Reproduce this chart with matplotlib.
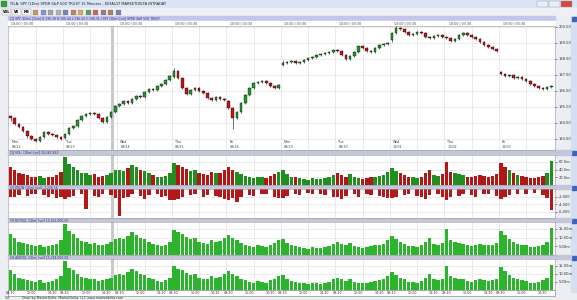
import matplotlib.pyplot as plt
from matplotlib.patches import Rectangle
import numpy as np

# ---- data (15-min chart read as 13 bars per session) ----
days = ["Mon", "Tue", "Wed", "Thu", "Fri", "Mon", "Tue", "Wed", "Thu", "Fri"]
dates = ["09/22", "09/23", "09/24", "09/25", "09/26", "09/29", "09/30", "10/01", "10/02", "10/03"]
day_open = [194.44, 193.06, 195.06, 196.88, 195.38, 197.62, 198.56, 199.19, 199.38, 197.19]

closes = [
    194.31, 193.94, 193.75, 193.50, 193.19, 193.00, 192.88, 193.12, 193.44, 193.31, 193.25, 193.12, 193.00,
    193.31, 193.69, 193.81, 194.19, 194.44, 194.56, 194.62, 194.56, 194.31, 194.06, 194.38, 194.69, 195.06,
    195.19, 195.38, 195.25, 195.50, 195.69, 195.62, 195.94, 196.12, 196.06, 196.31, 196.44, 196.69, 196.94,
    197.25, 196.81, 196.19, 195.81, 196.06, 196.19, 196.00, 195.88, 195.56, 195.44, 195.62, 195.50, 195.44,
    194.94, 194.31, 194.69, 195.25, 195.75, 196.19, 196.50, 196.56, 196.62, 196.50, 196.31, 196.19, 196.38,
    197.75, 197.81, 197.88, 197.75, 197.81, 197.94, 198.06, 198.12, 198.25, 198.31, 198.38, 198.44, 198.56,
    198.50, 198.25, 198.00, 198.19, 198.44, 198.81, 198.69, 198.50, 198.44, 198.69, 198.88, 198.94, 199.00,
    199.62, 199.94, 199.88, 199.69, 199.50, 199.56, 199.69, 199.62, 199.38, 199.31, 199.44, 199.50, 199.38,
    199.31, 199.12, 199.25, 199.50, 199.62, 199.50, 199.38, 199.25, 199.06, 198.88, 198.75, 198.62, 198.50,
    197.06, 196.94, 197.00, 196.81, 196.88, 196.75, 196.62, 196.44, 196.31, 196.19, 196.12, 196.25, 196.31,
]
# notable wick extremes (bar index -> price)
spike_low = {0: 194.10, 53: 193.65, 4: 193.05, 91: 199.05}
spike_high = {39: 197.45, 92: 200.12, 65: 197.95}

volume = [
    48, 40, 30, 28, 25, 22, 20, 24, 18, 20, 22, 26, 34,
    72, 55, 48, 40, 32, 30, 26, 28, 22, 24, 26, 30, 38,
    40, 36, 44, 52, 46, 40, 36, 30, 26, 22, 20, 24, 30,
    58, 52, 48, 42, 36, 40, 30, 28, 26, 34, 30, 32, 40,
    46, 40, 34, 28, 24, 20, 18, 22, 20, 18, 24, 28, 34,
    38, 28, 22, 20, 18, 16, 14, 18, 16, 15, 18, 20, 26,
    30, 26, 22, 28, 20, 18, 16, 18, 20, 22, 24, 26, 34,
    44, 36, 30, 26, 20, 20, 18, 22, 30, 40, 26, 24, 28,
    60, 34, 30, 28, 26, 22, 20, 24, 26, 24, 22, 24, 28,
    56, 46, 38, 30, 26, 24, 22, 18, 18, 20, 24, 30, 62,
]

delta = [
    -2.2, -2.0, -1.6, 0, -1.8, -1.2, -1.4, 0, -1.6, -2.0, -1.2, -2.4, -2.0,
    -2.6, -2.2, -1.8, 0, -1.4, -5.2, 0, -1.8, -2.0, -1.4, 0, -1.6, -2.4,
    -7.0, -2.4, -2.0, -1.4, 0, -1.8, -2.6, -1.6, 0, -1.2, -2.2, -1.8, -2.8,
    -3.0, -2.6, -2.2, 0, -1.6, -1.4, 0, -2.0, -1.6, 0, -1.8, -2.2, -2.6,
    -2.8, -2.4, -3.4, -2.0, 0, -1.6, -1.8, 0, -1.2, -1.4, 0, -2.0, -2.4,
    -2.4, -1.8, 0, -1.2, -1.6, 0, -1.0, -1.4, 0, -1.2, -1.6, 0, -2.0,
    -2.2, -2.6, -1.8, 0, -1.4, -2.0, 0, -1.2, -1.6, 0, -1.8, -2.2, -2.4,
    -2.4, -2.0, 0, -1.6, -1.4, 0, -1.8, -2.0, -2.6, -1.6, 0, -1.4, -2.0,
    -2.8, -2.2, 0, -1.8, -1.4, 0, -1.6, -2.0, 0, -1.2, -1.4, 0, -1.8,
    -2.6, -2.2, -1.6, 0, -1.4, 0, -1.2, 0, -1.0, 0, -1.6, -2.4, -5.6,
]

time_labels = ["09:30", "12:00", "14:30"]

W, H = 577, 300
fig = plt.figure(figsize=(W / 100, H / 100), dpi=100)
fig.patch.set_facecolor('#eceef3')

def px_axes(x0, y0, x1, y1):
    return fig.add_axes([x0 / W, 1 - y1 / H, (x1 - x0) / W, (y1 - y0) / H])

# ---- window chrome ----
bg = fig.add_axes([0, 0, 1, 1])
bg.set_xlim(0, W)
bg.set_ylim(H, 0)
bg.axis('off')
bg.add_patch(Rectangle((0, 0), W, 8, color='#d9e5f4'))
bg.add_patch(Rectangle((1, 1), 5, 5, color='#3a9a3a'))
bg.text(9, 4, "TSLA: SPY (1Dm) SPDR S&P 500 TRUST 15 Minutes - DEFAULT MARKETDELTA INTRADAY",
        fontsize=2.6, va='center', color='#222')
for bx, col in [(537, '#e8eef8'), (549, '#e8eef8'), (561, '#d8473a')]:
    bg.add_patch(Rectangle((bx, 1), 11, 6, facecolor=col, edgecolor='#8a9ab0', lw=0.3))
bg.add_patch(Rectangle((0, 8), W, 8, color='#eef0f4'))
for i, lab in enumerate(["VOL", "VR", "MB"]):
    bg.add_patch(Rectangle((2 + i * 10, 9), 9, 6, facecolor='#f8f8f8', edgecolor='#999', lw=0.3))
    bg.text(6.5 + i * 10, 12, lab, fontsize=2.4, ha='center', va='center', fontweight='bold')
icon_cols = ['#c08040', '#6080c0', '#909090', '#a0a0a0', '#5070a0', '#c06040',
             '#d0a030', '#408040', '#c04040', '#806060', '#a06040', '#6060a0']
for i, col in enumerate(icon_cols):
    bg.add_patch(Rectangle((33 + i * 7.5, 9.5), 5, 5, facecolor=col, edgecolor='#777', lw=0.2, alpha=0.8))
bg.add_patch(Rectangle((8, 16), 547, 5, color='#c3c6ea'))
bg.text(10, 18.5, "[1] SPY (1Dm) [15m] O:196.38 H:196.44 L:196.25 C:196.31 | SPY (1Dm) [vol] SPDR S&P 500 TRUST",
        fontsize=2.2, va='center', color='#2a2a9a')
bg.add_patch(Rectangle((8, 21), 547, 5, color='white'))
for d in range(10):
    bg.text(11 + d * 54.7, 23.5, "10:00 | 03:30", fontsize=2.3, va='center', color='#444')
bg.add_patch(Rectangle((571, 16), 6, 276, color='#d5dff0'))
for yy in [17, 151, 186, 219, 256]:
    bg.add_patch(Rectangle((572, yy), 4, 4, color='#4060c0'))

bands = [(150, 155, "[1] VOL: (1Dm) [vol] 34,567,890"),
         (185, 189, "[2] DELTA (1Dm) [vol] -1,234.56"),
         (218, 222, "[3] BUYVOL (1Dm) [vol] 15,432,000.00"),
         (255, 259, "[4] ASKVOL (1Dm) [vol] 15,218,000.00")]
for y0, y1, txt in bands:
    bg.add_patch(Rectangle((8, y0), 563, y1 - y0, color='#c4c6dc'))
    bg.text(10, (y0 + y1) / 2, txt, fontsize=2.2, va='center', color='#2a2a9a')

bg.add_patch(Rectangle((8, 290), 547, 6, color='white', ec='#777', lw=0.4))
bg.text(4, 298, "TLB", fontsize=2.2, va='center', color='#444')
bg.text(22, 298, "Chart by MarketDelta, MarketDelta, LLC www.marketdelta.com",
        fontsize=2.3, va='center', color='#333')

# ---- derived bar arrays ----
n = len(closes)
x = np.arange(n)
opens = []
for i in range(n):
    opens.append(day_open[i // 13] if i % 13 == 0 else closes[i - 1])
opens = np.array(opens)
closes = np.array(closes)
highs = np.maximum(opens, closes) + 0.05
lows = np.minimum(opens, closes) - 0.05
for k, v in spike_low.items():
    lows[k] = v
for k, v in spike_high.items():
    highs[k] = v
up = closes >= opens

grid_x = [d * 13 - 0.5 for d in range(1, 10)] + [d * 13 + 6 for d in range(10)]
xlim = (-0.6, n - 0.1)

def style(ax, yticks, fmt):
    ax.set_xlim(*xlim)
    ax.set_facecolor('white')
    ax.set_xticks(grid_x)
    ax.tick_params(axis='x', length=0, labelbottom=False)
    ax.yaxis.tick_right()
    ax.set_yticks(yticks)
    ax.set_yticklabels([fmt(v) for v in yticks])
    ax.tick_params(axis='y', labelsize=2.6, length=1.5, width=0.4, pad=1, colors='#333')
    ax.grid(color='#dcdcdc', lw=0.4)
    ax.set_axisbelow(True)
    ax.axvline(24.3, color='#c8c8c8', lw=2.2, zorder=0)
    for s in ax.spines.values():
        s.set_color('#9a9a9a')
        s.set_linewidth(0.4)

# ---- price panel ----
ax = px_axes(8, 26, 555, 150)
style(ax, np.arange(193, 201, 1.0), lambda v: f"{v:.2f}")
ax.set_ylim(192.31, 200.06)
ax.vlines(x, lows, highs, color='black', lw=0.4, zorder=2)
ax.bar(x, closes - opens, bottom=opens, width=0.62,
       color=np.where(up, '#1e9a2a', '#c4141c'), edgecolor='black', linewidth=0.25, zorder=3)
for d in range(10):
    ax.text(d * 13 + 0.2, 192.4, f"{days[d]}\n{dates[d]}", fontsize=2.4, color='#444',
            va='bottom', linespacing=1.1)

# ---- volume panel ----
ax1 = px_axes(8, 155, 555, 185)
style(ax1, [20, 40, 60], lambda v: f"{v:.0f}.0m")
ax1.set_ylim(0, 78)
ax1.bar(x, volume, width=0.82, color=np.where(up, '#1f8f1f', '#b01818'), linewidth=0)

# ---- delta panel ----
ax2 = px_axes(8, 189, 555, 218)
style(ax2, [-2, -4, -6], lambda v: f"{int(v * 1000):,}")
ax2.set_ylim(-7.6, 0)
ax2.bar(x, delta, width=0.82, color='#b3191c', linewidth=0)

# ---- buy / ask volume panels ----
ax3 = px_axes(8, 222, 555, 255)
style(ax3, [20, 40, 60], lambda v: f"{v / 4:.2f}m")
ax3.set_ylim(0, 76)
ax3.bar(x, volume, width=0.82, color='#2cb52c', linewidth=0)

ax4 = px_axes(8, 259, 555, 290)
style(ax4, [20, 40, 60], lambda v: f"{v / 4:.2f}m")
ax4.set_ylim(0, 76)
ax4.bar(x, volume, width=0.82, color='#2cb52c', linewidth=0)

for d in range(10):
    for j, lab in enumerate(time_labels):
        bg.text(8 + (d * 13 + j * 5 + 0.6) * 547 / (n + 0.5), 293, lab,
                fontsize=2.3, ha='center', va='center', color='#333')

fig.savefig('out.png', dpi=100, facecolor=fig.get_facecolor())
